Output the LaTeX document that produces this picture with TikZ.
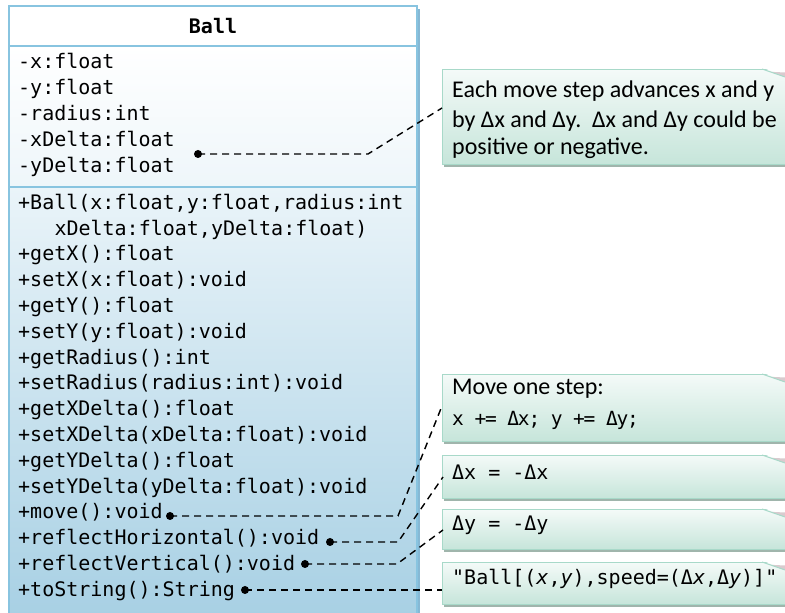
\documentclass[tikz,border=0pt]{standalone}
\usepackage{fontspec}
\setmainfont{Carlito}
\newfontfamily\monof{DejaVu Sans Mono}
\newfontfamily\monocond[LetterSpace=-6]{DejaVu Sans Mono}
\usetikzlibrary{shadows}
\definecolor{clsborder}{HTML}{88C4E0}
\definecolor{clsshadow}{HTML}{86B8D4}
\definecolor{attrbot}{HTML}{EEF6FA}
\definecolor{methtop}{HTML}{EAF4F9}
\definecolor{methbot}{HTML}{A2CDE2}
\definecolor{noteborder}{HTML}{A8D9C9}
\definecolor{notetop}{HTML}{F4FAF8}
\definecolor{notebot}{HTML}{C6E5DA}
\definecolor{noteshadow}{HTML}{A0B5AC}
\definecolor{flapcol}{HTML}{D9CBCF}
\tikzset{
  comp/.style={rectangle, draw=clsborder, line width=1.5pt, minimum width=408, inner sep=0pt},
  mono/.style={font=\monof\fontsize{20}{24}\selectfont, inner sep=0pt, anchor=mid west},
  ntext/.style={font=\fontsize{24}{29}\selectfont, inner sep=0pt, anchor=mid west},
  note/.style={rectangle, draw=noteborder, line width=1pt, top color=notetop, bottom color=notebot,
    minimum width=360, anchor=north west, inner sep=0pt,
    drop shadow={shadow xshift=1pt, shadow yshift=-3pt, fill=noteshadow, opacity=1}},
  dotnode/.style={circle, fill=black, inner sep=0pt, minimum size=8},
  conn/.style={dash pattern=on 7pt off 5pt, line width=1.4pt}
}
\begin{document}
\begin{tikzpicture}[x=1pt,y=1pt]
\useasboundingbox (0,0) rectangle (785,613);
\clip (0,0) rectangle (785,613);
% class box
\fill[clsshadow] (12,604) rectangle (420,-40);
\node[comp, minimum height=466, top color=methtop, bottom color=methbot] (meth) at (213,193) {};
\node[comp, minimum height=141, top color=white, bottom color=attrbot] (attr) at (213,496.5) {};
\node[comp, minimum height=40, fill=white, font=\monof\fontsize{20}{24}\selectfont\bfseries] (hdr) at (213,587) {Ball};
% attributes
\node[mono] (a1) at (18,547) {-x:float};
\node[mono] (a2) at (18,521) {-y:float};
\node[mono] (a3) at (18,495) {-radius:int};
\node[mono] (a4) at (18,469) {-xDelta:float};
\node[mono] (a5) at (18,443) {-yDelta:float};
% methods
\node[mono] (m1) at (18,406) {+Ball(x:float,y:float,radius:int};
\node[mono] (m2) at (54.3,380.2) {xDelta:float,yDelta:float)};
\node[mono] (m3) at (18,354.4) {+getX():float};
\node[mono] (m4) at (18,328.6) {+setX(x:float):void};
\node[mono] (m5) at (18,302.8) {+getY():float};
\node[mono] (m6) at (18,277) {+setY(y:float):void};
\node[mono] (m7) at (18,251.2) {+getRadius():int};
\node[mono] (m8) at (18,225.4) {+setRadius(radius:int):void};
\node[mono] (m9) at (18,199.6) {+getXDelta():float};
\node[mono] (m10) at (18,173.8) {+setXDelta(xDelta:float):void};
\node[mono] (m11) at (18,148) {+getYDelta():float};
\node[mono] (m12) at (18,122.2) {+setYDelta(yDelta:float):void};
\node[mono] (m13) at (18,96.4) {+move():void};
\node[mono] (m14) at (18,70.6) {+reflectHorizontal():void};
\node[mono] (m15) at (18,44.8) {+reflectVertical():void};
\node[mono] (m16) at (18,19) {+toString():String};
% notes
\node[note, minimum height=95] (n1) at (442,544) {};
\node[note, minimum height=67] (n2) at (442,239) {};
\node[note, minimum height=43] (n3) at (442,158) {};
\node[note, minimum height=40] (n4) at (442,104) {};
\node[note, minimum height=42] (n5) at (442,51) {};
\foreach \t in {544,239,158,104,51} {
  \fill[white] (761,\t+2) -- (792,\t+2) -- (792,\t-10.4) -- cycle;
  \fill[flapcol] (770,\t-2.8) -- (785,\t-8) -- (785,\t-3.5) -- cycle;
  \draw[noteborder, line width=1pt] (762,\t) -- (792,\t-10.4);
}
\node[ntext] (t1a) at (452,518) {Each move step advances x and y};
\node[ntext] (t1b) at (452,488) {by Δx and Δy.\ \ Δx and Δy could be};
\node[ntext] (t1c) at (452,461) {positive or negative.};
\node[ntext] (t2a) at (452,221) {Move one step:};
\node[mono, font=\monocond\fontsize{19.5}{24}\selectfont] (t2b) at (452,190) {x += Δx; y += Δy;};
\node[mono] (t3) at (452,136) {Δx = -Δx};
\node[mono] (t4) at (452,85) {Δy = -Δy};
\node[mono] (t5) at (452,31) {"Ball[(\textit{x},\textit{y}),speed=(Δ\textit{x},Δ\textit{y})]"};
% connectors
\node[dotnode] (d1) at (198,459) {};
\node[dotnode] (d2) at (170,97) {};
\node[dotnode] (d3) at (330,71) {};
\node[dotnode] (d4) at (305,49) {};
\node[dotnode] (d5) at (245,23) {};
\coordinate (b1) at (368,459);
\coordinate (e1) at (442,505);
\coordinate (b2) at (398,97);
\coordinate (e2) at (442,207);
\coordinate (b3) at (398,71);
\coordinate (e3) at (443,136);
\coordinate (b4) at (397,49);
\coordinate (e4) at (443,83);
\coordinate (e5) at (442,23);
\draw[conn] (d1.center) -- (b1) -- (e1);
\draw[conn] (d2.center) -- (b2) -- (e2);
\draw[conn] (d3.center) -- (b3) -- (e3);
\draw[conn] (d4.center) -- (b4) -- (e4);
\draw[conn] (d5.center) -- (e5);
\end{tikzpicture}
\end{document}
